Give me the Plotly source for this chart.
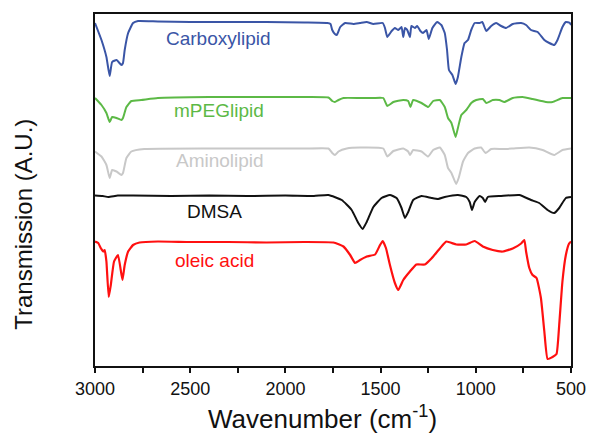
import plotly.graph_objects as go

# ---- Data (wavenumber in cm^-1, transmission in arbitrary offset units) ----
carboxy_wn = [3000, 2966, 2940, 2923, 2910, 2887, 2861, 2853, 2844, 2826, 2800, 2774, 2670, 2500, 2300, 2100,
              1900, 1780, 1763, 1754, 1740, 1730, 1712, 1686, 1643, 1608, 1573, 1538, 1489, 1477, 1465, 1442,
              1425, 1407, 1390, 1381, 1372, 1360, 1346, 1338, 1320, 1308, 1291, 1277, 1259, 1247, 1228, 1203,
              1181, 1163, 1151, 1141, 1123, 1106, 1094, 1076, 1059, 1041, 1024, 1006, 980, 966, 945, 919, 893,
              867, 841, 806, 762, 736, 710, 675, 640, 614, 588, 571, 545, 527, 506, 500]
carboxy_t = [343, 326, 309, 290, 304, 306, 301, 303, 316, 333, 343, 345, 344.5, 344, 344, 344,
             343.5, 343, 342, 336, 332, 331, 339, 343, 342, 343, 344, 342, 343, 338, 329, 335,
             338, 336, 339, 329, 338, 336, 329, 340, 338, 340, 335, 333, 336, 327, 338, 344,
             341, 333, 316, 296, 291, 282, 289, 309, 323, 326, 336, 343, 343, 344, 335, 340, 343,
             340, 338, 342, 343, 341, 336, 334, 326, 323, 321, 326, 339, 344, 343, 341]

mpeg_wn = [3000, 2966, 2940, 2923, 2910, 2887, 2861, 2853, 2835, 2809, 2757, 2670, 2400, 2100, 1900, 1774,
           1754, 1740, 1721, 1695, 1608, 1538, 1486, 1465, 1433, 1381, 1355, 1343, 1329, 1285, 1250, 1224,
           1189, 1163, 1146, 1128, 1106, 1094, 1076, 1050, 1024, 998, 963, 945, 911, 876, 850, 806, 754,
           702, 632, 597, 545, 500]
mpeg_t = [268, 261, 253, 244, 249, 248, 246, 248, 259, 265, 266, 268, 269, 269, 269, 268.5,
          265, 264, 266, 268, 268, 268, 268, 260, 264, 266, 265, 259, 266, 263, 259, 265,
          266, 259, 248, 243, 229, 238, 251, 256, 263, 266, 267, 263, 266, 266, 264, 268, 269,
          267, 264, 264, 268, 268]

amino_wn = [3000, 2966, 2940, 2923, 2910, 2887, 2861, 2853, 2835, 2809, 2741, 2400, 2100, 1900, 1774, 1754,
            1740, 1721, 1678, 1608, 1486, 1465, 1433, 1381, 1355, 1346, 1329, 1285, 1250, 1224, 1189, 1163,
            1146, 1128, 1103, 1090, 1067, 1041, 1006, 972, 949, 919, 858, 806, 719, 649, 588, 545, 500]
amino_t = [214.5, 209.5, 201, 188, 196, 194.5, 191, 193, 208, 214.5, 217, 217.5, 217.5, 217.5, 217.5, 213,
           211, 214.5, 217.5, 218.5, 217.5, 209.5, 215, 217.5, 214.5, 211, 216, 214.5, 209.5, 216, 218.5, 211,
           198, 193, 182, 188, 204.5, 213, 217.5, 218.5, 213, 217, 217, 217.5, 218.5, 216, 211, 216, 217.5]

dmsa_wn = [3000, 2960, 2930, 2880, 2800, 2600, 2400, 2200, 2000, 1850, 1774, 1704, 1652, 1617, 1594, 1573,
           1538, 1495, 1451, 1416, 1390, 1372, 1355, 1329, 1285, 1233, 1198, 1163, 1094, 1050, 1032, 1020,
           1006, 980, 963, 951, 937, 867, 771, 710, 667, 623, 588, 562, 527, 500]
dmsa_t = [170.5, 170, 169, 170.5, 170.5, 170, 170.5, 170, 170.5, 170, 171, 166, 156, 143, 137, 144,
          159, 168, 171, 168, 158, 148, 154, 166, 170, 168, 167, 169, 171, 169, 164, 156,
          164, 170, 168, 164, 169, 170, 171, 166, 163, 156, 153, 158, 168, 169]

oleic_wn = [3000, 2983, 2970, 2957, 2949, 2940, 2928, 2917, 2900, 2879, 2856, 2844, 2826, 2800, 2766, 2670,
            2500, 2300, 2100, 1900, 1748, 1695, 1660, 1634, 1608, 1573, 1529, 1503, 1489, 1472, 1451, 1425,
            1407, 1381, 1346, 1312, 1268, 1233, 1189, 1155, 1102, 1050, 1006, 963, 911, 858, 806, 762, 745,
            736, 719, 702, 681, 658, 640, 623, 597, 576, 562, 545, 527, 510, 500]
oleic_t = [124.5, 123, 118, 114.5, 116, 104.5, 69, 81, 104.5, 111, 86, 101, 114.5, 121, 123.5, 124.5,
           124, 124, 123.5, 124, 123.5, 119.5, 111, 103, 106, 109.5, 111.5, 121, 125, 118, 101, 83,
           76, 86, 94.5, 101.5, 101.5, 107.5, 117.5, 124.5, 121.5, 121.5, 125, 119.5, 116, 114.5, 117.5, 122.5, 126,
           114.5, 98, 91, 88, 68, 34.5, 7, 9, 12, 41, 84.5, 111, 122.5, 124.5]

series_names = ["Carboxylipid", "mPEGlipid", "Aminolipid", "DMSA", "oleic acid"]
series_x = [carboxy_wn, mpeg_wn, amino_wn, dmsa_wn, oleic_wn]
series_y = [carboxy_t, mpeg_t, amino_t, dmsa_t, oleic_t]
series_colors = ["#3a55a6", "#5cb946", "#c8c8c8", "#111111", "#ff1010"]
series_widths = [2, 2, 2, 2, 2.2]
label_x = [2354, 2349, 2344, 2370, 2372]
label_y = [328, 256, 206, 155, 106]

x_ticks = [3000, 2500, 2000, 1500, 1000, 500]

FONT = "Arial, 'Liberation Sans', sans-serif"

fig = go.Figure()
for name, xs, ys, c, w in zip(series_names, series_x, series_y, series_colors, series_widths):
    assert len(xs) == len(ys), name
    fig.add_trace(go.Scatter(x=xs, y=ys, mode="lines", name=name,
                             line=dict(color=c, width=w, shape="spline", smoothing=0.4),
                             showlegend=False))

for name, lx, ly, c in zip(series_names, label_x, label_y, series_colors):
    fig.add_annotation(x=lx, y=ly, xref="x", yref="y", text=name, showarrow=False,
                       font=dict(family=FONT, size=19, color=c), xanchor="center", yanchor="middle")

fig.add_annotation(x=0.477, y=-0.145, xref="paper", yref="paper",
                   text="Wavenumber (cm<sup>-1</sup>)", showarrow=False,
                   font=dict(family=FONT, size=26, color="#111111"),
                   xanchor="center", yanchor="middle")
fig.add_annotation(x=-0.152, y=0.403, xref="paper", yref="paper",
                   text="Transmission (A.U.)", showarrow=False, textangle=-90,
                   font=dict(family=FONT, size=24, color="#111111"),
                   xanchor="center", yanchor="middle")

fig.update_layout(
    width=598, height=441,
    margin=dict(l=95, r=23, t=14, b=75),
    paper_bgcolor="white", plot_bgcolor="white",
    font=dict(family=FONT, color="#111111"),
)
fig.update_xaxes(range=[3000, 500], tickvals=x_ticks, ticktext=[str(v) for v in x_ticks],
                 ticks="outside", ticklen=5, tickwidth=1.5, tickcolor="#111111",
                 minor=dict(ticks="outside", ticklen=5, tickwidth=1.5, tickcolor="#111111", dtick=250,
                            tick0=500, showgrid=False),
                 tickfont=dict(family=FONT, size=18, color="#111111"),
                 showline=True, linecolor="#111111", linewidth=2, mirror=True,
                 showgrid=False, zeroline=False)
fig.update_yaxes(range=[0, 352], showticklabels=False, ticks="",
                 showline=True, linecolor="#111111", linewidth=2, mirror=True,
                 showgrid=False, zeroline=False)

fig.write_html("out.html")
